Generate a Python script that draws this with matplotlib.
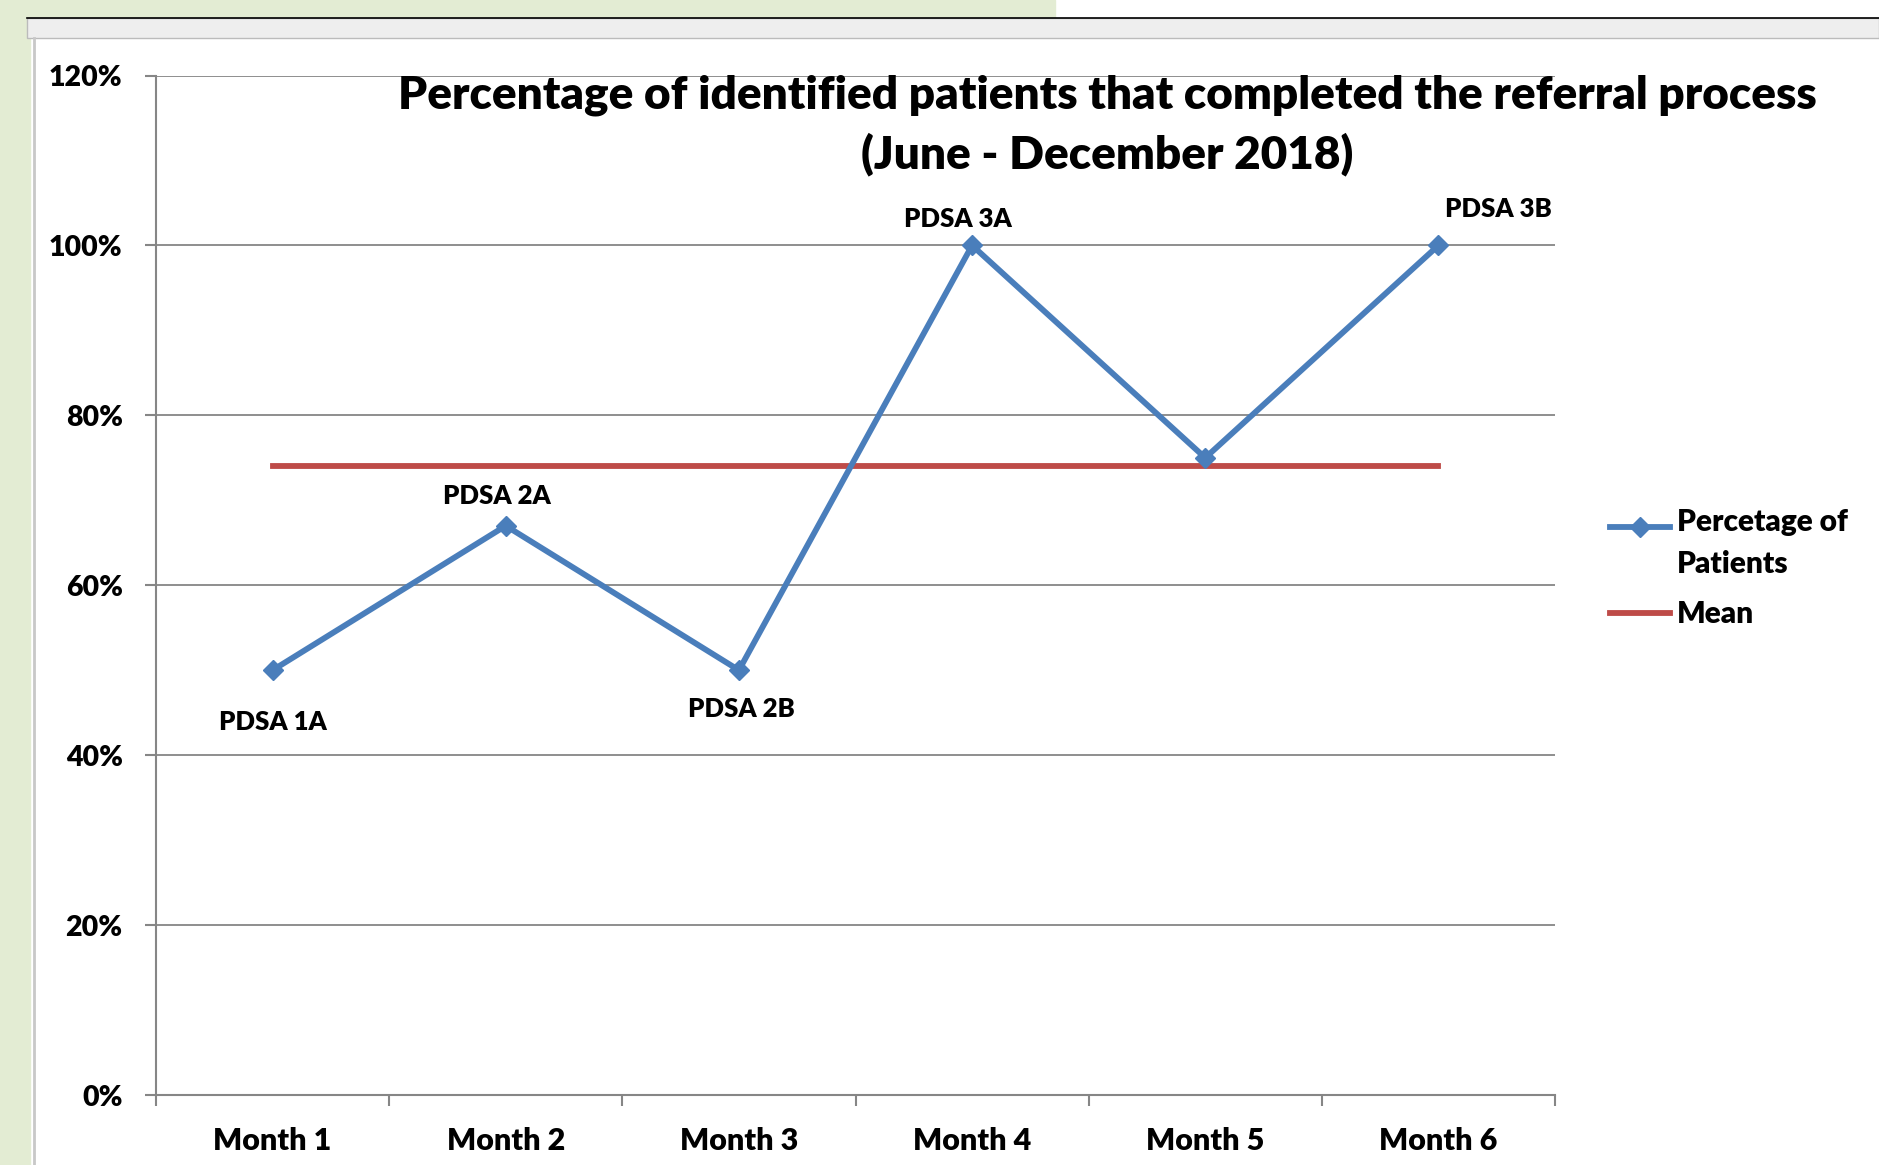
import numpy as np
import matplotlib
matplotlib.use("Agg")
import matplotlib.pyplot as plt
from matplotlib.patches import Rectangle

# data
months = ["Month 1", "Month 2", "Month 3", "Month 4", "Month 5", "Month 6"]
percent = [50, 67, 50, 100, 75, 100]
pdsa_labels = ["PDSA 1A", "PDSA 2A", "PDSA 2B", "PDSA 3A", "", "PDSA 3B"]
yticks = [0, 20, 40, 60, 80, 100, 120]
mean_val = 74

plt.rcParams['font.family'] = ['Lato', 'DejaVu Sans']
plt.rcParams['font.weight'] = 'heavy'

W, H = 1879, 1165
fig = plt.figure(figsize=(W / 100, H / 100), dpi=100)

# excel window background bits
fig.add_artist(Rectangle((0, 0), 30 / W, 1, transform=fig.transFigure, color='#e3ecd3', zorder=0))
fig.add_artist(Rectangle((0, 1 - 18 / H), 1055 / W, 18 / H, transform=fig.transFigure, color='#e3ecd3', zorder=0))
fig.add_artist(Rectangle((27 / W, 1 - 38 / H), 1 - 27 / W, 20 / H, transform=fig.transFigure,
                         facecolor='#eeeeee', edgecolor='#bbbbbb', lw=1, zorder=1))
fig.add_artist(plt.Line2D([27 / W, 1], [1 - 18 / H, 1 - 18 / H], transform=fig.transFigure, color='black', lw=1.2))
fig.add_artist(plt.Line2D([34 / W, 34 / W], [0, 1 - 38 / H], transform=fig.transFigure, color='#c8c8c8', lw=2))

ax = fig.add_axes([156 / W, 1 - 1095 / H, (1555 - 156) / W, (1095 - 75.5) / H])
x = np.arange(len(months))

ax.plot(x, percent, color='#4a7ebb', lw=4.2, marker='D', markersize=10, zorder=3,
        label='Percetage of\nPatients')
ax.plot([x[0], x[-1]], [mean_val, mean_val], color='#be4b48', lw=4.2, zorder=2, label='Mean')

# data labels
offsets = [(0, -52), (-9, 30), (2, -39), (-14, 26), (0, 0), (60, 36)]
for xi, yi, lab, (dx, dy) in zip(x, percent, pdsa_labels, offsets):
    if lab:
        ax.annotate(lab, (xi, yi), xytext=(dx * 0.72, dy * 0.72), textcoords='offset points',
                    ha='center', va='center', fontsize=18.5, fontweight='heavy')

ax.set_xlim(-0.5, len(months) - 0.5)
ax.set_ylim(0, 120)
ax.set_yticks(yticks)
ax.set_yticklabels([f"{v}%" for v in yticks], fontsize=20.5, fontweight='heavy')
ax.set_xticks(x)
ax.set_xticklabels(months, fontsize=22, fontweight='heavy')
ax.set_xticks(np.arange(-0.5, len(months)), minor=True)
ax.tick_params(axis='x', which='major', length=0, pad=23)
ax.tick_params(axis='x', which='minor', length=8, color='#868686', width=1.5, direction='out')
ax.tick_params(axis='y', length=8, color='#868686', width=1.5, pad=16)
ax.yaxis.grid(True, color='#868686', lw=1.3)
ax.set_axisbelow(True)
for s in ['top', 'right']:
    ax.spines[s].set_visible(False)
for s in ['left', 'bottom']:
    ax.spines[s].set_color('#868686')
    ax.spines[s].set_linewidth(1.5)

ax.text(0.68, 0.951, "Percentage of identified patients that completed the referral process\n(June - December 2018)",
        transform=ax.transAxes, ha='center', va='center', fontsize=33, fontweight='heavy', linespacing=1.45)

leg = ax.legend(loc='upper left', bbox_to_anchor=(1.02, 0.602), frameon=False,
                handlelength=2.0, handletextpad=0.25, labelspacing=0.75,
                prop={'weight': 'heavy', 'size': 21.5})
for t in leg.get_texts():
    t.set_linespacing(1.6)
# excel puts the handle next to the first line of a two-line label
h0 = leg.legend_handles[0]
h0.set_ydata(np.asarray(h0.get_ydata()) + 12)

fig.savefig("out.png", dpi=100)
